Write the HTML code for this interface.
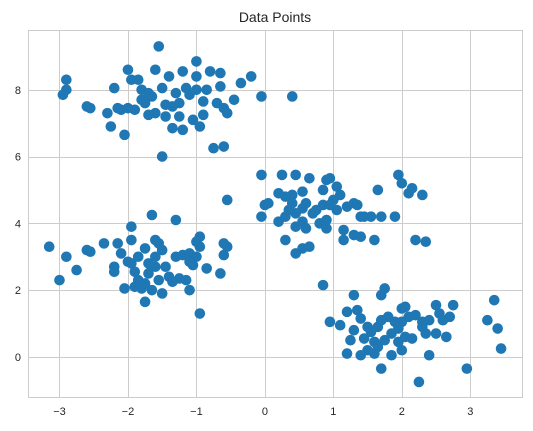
<!DOCTYPE html>
<html><head><meta charset="utf-8"><style>
html,body{margin:0;padding:0;background:#fff;}
svg{display:block;font-family:"Liberation Sans","DejaVu Sans",sans-serif;}
</style></head><body>
<svg id="chart" width="533" height="431" viewBox="0 0 533 431">
<text x="275" y="22" text-anchor="middle" font-size="14" fill="#262626">Data Points</text>
<g id="grid"></g>
<rect x="28.5" y="30.5" width="494" height="367" fill="none" stroke="#cccccc" stroke-width="1"/>
<g id="ticks"></g>
<g id="points"></g>
</svg>
<script>
const xTicks = [-3,-2,-1,0,1,2,3];
const yTicks = [0,2,4,6,8];
const xs = [-1.55,-2.9,-2.9,-2.95,-2.6,-2.55,-2.3,-2.25,-2.05,-2.2,-2.0,-1.95,-1.8,-1.75,-1.6,-1.5,-1.4,-1.2,-1.0,-1.0,-0.8,-0.65,-0.35,-0.2,-0.65,-0.85,-1.1,-1.3,-1.35,-1.6,-1.7,-1.9,-2.0,-2.1,-1.8,-1.65,-1.45,-1.25,-1.05,-0.9,-0.95,-1.2,-1.35,-1.25,-0.7,-0.6,-0.55,-0.75,-0.6,-1.5,-0.05,0.4,-1.15,-1.0,-0.9,-1.45,-1.7,-2.15,-1.85,-0.45,
-3.15,-2.9,-3.0,-2.75,-2.6,-2.55,-2.35,-2.15,-2.1,-2.2,-2.2,-2.05,-1.95,-1.95,-1.95,-1.9,-1.85,-1.75,-1.75,-1.6,-1.55,-1.6,-1.7,-1.7,-1.6,-1.55,-1.5,-1.5,-1.4,-1.65,-1.3,-1.3,-1.2,-1.1,-1.0,-1.05,-1.1,-1.25,-1.15,-1.1,-0.95,-0.95,-0.85,-0.65,-0.55,-0.6,-0.55,-0.6,-0.95,-1.8,-1.85,-1.75,-1.45,-1.0,-2.0,-1.35,-1.65,-1.9,
-0.05,0.25,0.45,0.65,0.9,0.95,0.85,1.05,1.1,1.0,0.55,0.4,0.3,0.2,0.0,0.05,-0.05,0.2,0.35,0.4,0.55,0.6,0.7,0.8,0.85,0.95,1.05,1.2,1.3,1.4,1.45,1.55,1.7,1.9,2.1,2.15,1.95,2.0,2.3,1.35,1.4,1.6,1.65,0.45,0.75,0.55,0.3,0.45,0.55,0.9,1.15,1.3,0.65,0.6,2.2,2.35,0.45,0.9,1.15,0.3,
0.85,0.95,1.3,1.7,1.75,1.2,1.1,1.25,1.35,1.4,1.5,1.3,1.45,1.6,1.65,1.7,1.8,1.9,1.95,2.0,2.05,2.1,2.2,2.3,2.4,2.5,2.55,2.6,2.7,2.75,2.65,2.5,2.35,2.4,2.25,2.95,3.25,3.35,3.4,3.45,1.2,1.6,1.7,1.85,2.0,2.05,1.85,1.55,1.75,2.15,2.3,1.4,2.0,1.65,1.5,1.95];
const ys = [9.3,8.3,8.0,7.85,7.5,7.45,7.3,6.9,6.65,8.05,8.6,8.3,8.0,7.6,8.6,8.05,8.4,8.55,8.85,8.4,8.55,8.5,8.2,8.4,8.1,8.0,7.85,7.9,7.5,7.3,7.25,7.4,7.45,7.4,7.7,7.8,7.55,7.2,7.1,7.25,6.9,6.8,6.85,7.6,7.6,7.45,7.3,6.25,6.3,6.0,7.8,7.8,8.05,8.0,7.65,7.2,7.9,7.45,8.3,7.7,
3.3,3.0,2.3,2.6,3.2,3.15,3.4,3.4,3.1,2.7,2.55,2.05,3.5,3.9,2.8,2.55,2.3,1.65,3.25,3.5,3.4,3.0,2.8,2.5,2.7,2.3,1.9,3.2,2.4,4.25,4.1,3.0,3.05,3.1,3.0,2.75,2.85,2.35,2.3,2.0,3.3,3.6,2.65,2.5,3.3,3.05,4.7,3.4,1.3,2.05,3.0,2.2,2.7,3.45,2.85,2.25,2.0,2.1,
5.45,5.45,5.45,5.35,5.3,5.35,5.0,5.1,4.85,4.7,4.95,4.85,4.8,4.9,4.55,4.6,4.2,4.05,4.4,4.6,4.45,4.6,4.3,4.0,4.55,4.55,4.4,4.5,4.6,4.2,4.2,4.2,4.2,4.2,4.9,5.05,5.45,5.2,4.85,4.55,3.6,3.5,5.0,3.9,4.4,4.05,3.5,3.1,3.25,3.85,3.8,3.65,3.3,3.85,3.5,3.45,4.3,4.1,3.5,4.2,
2.15,1.05,1.85,1.85,2.05,1.35,0.95,0.5,1.4,1.15,0.9,0.8,0.55,0.45,0.9,1.1,1.2,1.05,0.85,1.45,1.5,1.2,1.25,1.05,1.1,1.55,1.3,1.1,1.2,1.55,0.6,0.7,0.7,0.05,-0.75,-0.35,1.1,1.7,0.85,0.25,0.1,0.1,-0.35,0.05,0.2,0.6,0.7,0.75,0.5,0.55,0.9,0.05,1.05,0.3,0.2,0.45];
const X0=28, X1=523, Y0=30, Y1=398, xmin=-3.46, xmax=3.77, ymin=-1.23, ymax=9.79;
const sx = v => X0 + (v - xmin) / (xmax - xmin) * (X1 - X0);
const sy = v => Y1 - (v - ymin) / (ymax - ymin) * (Y1 - Y0);
const NS = 'http://www.w3.org/2000/svg';
const grid = document.getElementById('grid'), ticks = document.getElementById('ticks'), pts = document.getElementById('points');
xTicks.forEach(t => {
  const l = document.createElementNS(NS, 'line');
  
  
  const x = Math.round(sx(t)) + 0.5;
  l.setAttribute('x1', x); l.setAttribute('x2', x); l.setAttribute('y1', Y0); l.setAttribute('y2', Y1);
  l.setAttribute('stroke', '#cccccc'); grid.appendChild(l);
  const tx = document.createElementNS(NS, 'text');
  
  
  tx.setAttribute('x', sx(t)); tx.setAttribute('y', Y1 + 17);
  tx.setAttribute('text-anchor', 'middle'); tx.setAttribute('font-size', '11'); tx.setAttribute('fill', '#262626');
  tx.textContent = t < 0 ? '\u2212' + Math.abs(t) : String(t); ticks.appendChild(tx);
});
yTicks.forEach(t => {
  const l = document.createElementNS(NS, 'line');
  
  
  const y = Math.round(sy(t)) + 0.5;
  l.setAttribute('x1', X0); l.setAttribute('x2', X1); l.setAttribute('y1', y); l.setAttribute('y2', y);
  l.setAttribute('stroke', '#cccccc'); grid.appendChild(l);
  const tx = document.createElementNS(NS, 'text');
  
  
  tx.setAttribute('x', X0 - 7); tx.setAttribute('y', sy(t) + 4);
  tx.setAttribute('text-anchor', 'end'); tx.setAttribute('font-size', '11'); tx.setAttribute('fill', '#262626');
  tx.textContent = String(t); ticks.appendChild(tx);
});
xs.forEach((v, i) => {
  const c = document.createElementNS(NS, 'circle');
  
  
  c.setAttribute('cx', sx(v)); c.setAttribute('cy', sy(ys[i])); c.setAttribute('r', 5.3);
  c.setAttribute('fill', '#1f77b4'); pts.appendChild(c);
});
</script>
</body></html>
